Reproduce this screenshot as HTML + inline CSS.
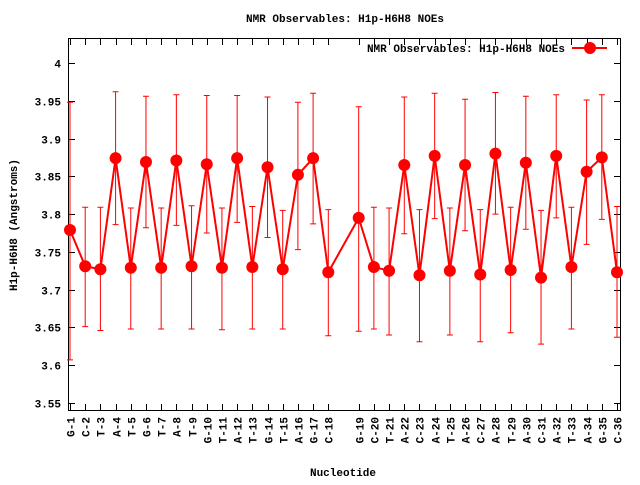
<!DOCTYPE html>
<html><head><meta charset="utf-8"><style>
body{margin:0;background:#fff}
svg text{font-family:"Liberation Mono","DejaVu Sans Mono",monospace;font-size:11px;font-weight:bold;fill:#000}
</style></head><body>
<svg id="c" width="640" height="480" xmlns="http://www.w3.org/2000/svg">
<text x="345" y="22" text-anchor="middle">NMR Observables: H1p-H6H8 NOEs</text>
<text x="343" y="476" text-anchor="middle">Nucleotide</text>
<text x="0" y="0" transform="translate(17,225) rotate(-90)" text-anchor="middle">H1p-H6H8 (Angstroms)</text>
<g id="grid"></g>
<rect x="68.5" y="38.5" width="552" height="372" fill="none" stroke="#000" stroke-width="1"/>
<g id="marks"></g>
<g>
<text x="565" y="52" text-anchor="end">NMR Observables: H1p-H6H8 NOEs</text>
<line x1="572" y1="48" x2="607" y2="48" stroke="#f00" stroke-width="2"/>
<circle cx="590" cy="48" r="6" fill="#f00"/>
</g>
</svg>
<script>
const labels=["G-1","C-2","T-3","A-4","T-5","G-6","T-7","A-8","T-9","G-10","T-11","A-12","T-13","G-14","T-15","A-16","G-17","C-18","G-19","C-20","T-21","A-22","C-23","A-24","T-25","A-26","C-27","A-28","T-29","A-30","C-31","A-32","T-33","A-34","G-35","C-36"];
const positions=[1,2,3,4,5,6,7,8,9,10,11,12,13,14,15,16,17,18,20,21,22,23,24,25,26,27,28,29,30,31,32,33,34,35,36,37];
const values=[3.779,3.731,3.727,3.874,3.729,3.869,3.729,3.871,3.731,3.866,3.729,3.874,3.730,3.862,3.727,3.852,3.874,3.723,3.795,3.730,3.725,3.865,3.719,3.877,3.725,3.865,3.720,3.880,3.726,3.868,3.716,3.877,3.730,3.856,3.875,3.723];
const lows=[3.607,3.651,3.646,3.786,3.648,3.782,3.648,3.785,3.648,3.775,3.647,3.789,3.648,3.769,3.648,3.753,3.787,3.639,3.645,3.648,3.640,3.774,3.631,3.794,3.640,3.778,3.631,3.800,3.643,3.780,3.628,3.795,3.648,3.760,3.793,3.637];
const highs=[3.948,3.809,3.809,3.962,3.808,3.956,3.808,3.958,3.811,3.957,3.808,3.957,3.810,3.955,3.805,3.948,3.960,3.806,3.942,3.809,3.808,3.955,3.806,3.960,3.808,3.952,3.806,3.961,3.809,3.956,3.805,3.958,3.809,3.951,3.958,3.810];
const yTicks=[3.55,3.6,3.65,3.7,3.75,3.8,3.85,3.9,3.95,4];
const yTickLabels=["3.55","3.6","3.65","3.7","3.75","3.8","3.85","3.9","3.95","4"];
const NS="http://www.w3.org/2000/svg";
function xs(p){return 70+(p-1)*(547/36);}
function ys(v){return 403-(v-3.55)*755.6;}
function mk(tag,attrs,parent){const e=document.createElementNS(NS,tag);for(const k in attrs)e.setAttribute(k,attrs[k]);parent.appendChild(e);return e;}
const g=document.getElementById('grid'),m=document.getElementById('marks');
yTicks.forEach((v,i)=>{const y=Math.round(ys(v))+0.5;
 const t=mk('line',{x1:69,x2:75,y1:y,y2:y,stroke:'#000'},g);
 
 
 const t2=mk('line',{x1:614,x2:620,y1:y,y2:y,stroke:'#000'},g);
 
 
 const l=mk('text',{x:61,y:y+4,'text-anchor':'end'},g);l.textContent=yTickLabels[i];
 
 
});
labels.forEach((lab,i)=>{const x=Math.round(xs(positions[i]))+0.5;
 const t=mk('line',{x1:x,x2:x,y1:404,y2:410,stroke:'#000'},g);
 
 
 const t2=mk('line',{x1:x,x2:x,y1:39,y2:45,stroke:'#000'},g);
 
 
 const l=mk('text',{x:0,y:0,'text-anchor':'end',transform:`translate(${x+4},417) rotate(-90)`},g);l.textContent=lab;
 
 
});
positions.forEach((p,i)=>{const x=xs(p),y1=ys(lows[i]),y2=ys(highs[i]);
 const e=mk('path',{d:`M${x},${y1}V${y2}M${x-3},${y1}H${x+3}M${x-3},${y2}H${x+3}`,stroke:'#f00','stroke-width':1,fill:'none'},m);
 
 
});
const line=mk('polyline',{points:positions.map((p,i)=>xs(p)+','+ys(values[i])).join(' '),fill:'none',stroke:'#f00','stroke-width':2},m);


positions.forEach((p,i)=>{const c=mk('circle',{cx:xs(p),cy:ys(values[i]),r:6,fill:'#f00'},m);
 
 
});
</script>
</body></html>
